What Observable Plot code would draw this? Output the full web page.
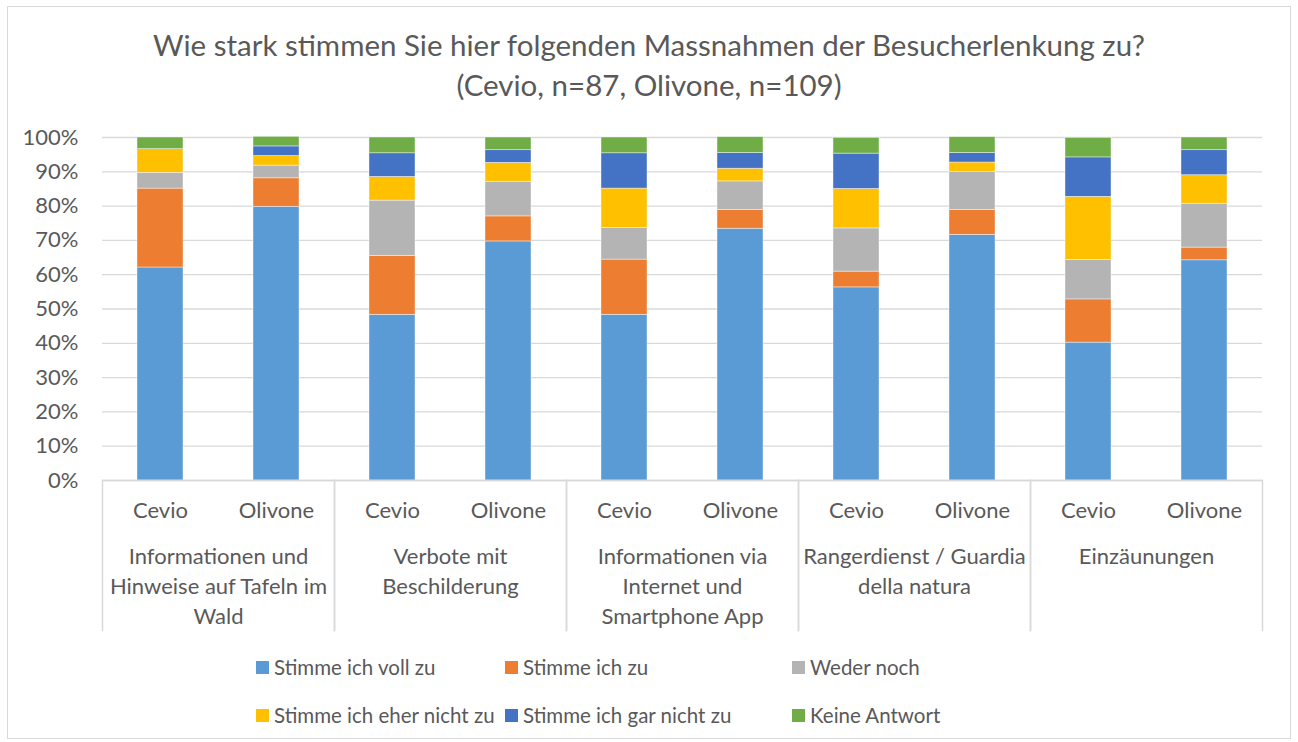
<!DOCTYPE html>
<html>
<head>
<meta charset="utf-8">
<script src="https://cdn.jsdelivr.net/npm/d3@7"></script>
<script src="https://cdn.jsdelivr.net/npm/@observablehq/plot@0.6"></script>
<style>
  html, body { margin: 0; padding: 0; background: #fff; }
  #wrap { position: relative; width: 1298px; height: 742px; font-family: Lato, "Open Sans", sans-serif; color: #595959; overflow: hidden; }
  #border { position: absolute; left: 7px; top: 6px; width: 1284px; height: 733px; border: 1.5px solid #d9d9d9; box-sizing: border-box; pointer-events: none; }
  #title { height: 110px; box-sizing: border-box; padding-top: 25px; text-align: center; font-size: 29.5px; line-height: 40px; color: #595959; white-space: nowrap; }
  #chart svg { display: block; }
  #legend { display: grid; grid-template-columns: 249px 287px auto; margin-left: 256px; padding-top: 3px; }
  .item { display: flex; align-items: center; height: 48px; font-size: 20.5px; color: #595959; white-space: nowrap; }
  .sw { width: 13px; height: 13px; margin-right: 5px; flex: none; }
</style>
</head>
<body>
<div id="wrap">
  <div id="title"></div>
  <div id="chart"></div>
  <div id="legend"></div>
  <div id="border"></div>
</div>
<script>
const titleLines = ["Wie stark stimmen Sie hier folgenden Massnahmen der Besucherlenkung zu?", "(Cevio, n=87, Olivone, n=109)"];
const groups = ["Informationen und Hinweise auf Tafeln im Wald", "Verbote mit Beschilderung", "Informationen via Internet und Smartphone App", "Rangerdienst / Guardia della natura", "Einzäunungen"];
const groupLabels = ["Informationen und\nHinweise auf Tafeln im\nWald", "Verbote mit\nBeschilderung", "Informationen via\nInternet und\nSmartphone App", "Rangerdienst / Guardia\ndella natura", "Einzäunungen"];
const sites = ["Cevio", "Olivone"];
const answers = ["Stimme ich voll zu", "Stimme ich zu", "Weder noch", "Stimme ich eher nicht zu", "Stimme ich gar nicht zu", "Keine Antwort"];
const colors = ["#5B9BD5", "#ED7D31", "#B4B4B4", "#FFC000", "#4472C4", "#70AD47"];
const yTicks = [0, 10, 20, 30, 40, 50, 60, 70, 80, 90, 100];

// Percent values per bar, in order: group1 Cevio, group1 Olivone, group2 Cevio, ...
const vollZu    = [62.1, 79.8, 48.3, 69.7, 48.3, 73.4, 56.3, 71.6, 40.2, 64.2];
const zu        = [23.0,  8.3, 17.2,  7.3, 16.1,  5.5,  4.6,  7.3, 12.6,  3.7];
const weder     = [ 4.6,  3.7, 16.1, 10.1,  9.2,  8.3, 12.6, 11.0, 11.5, 12.8];
const eherNicht = [ 6.9,  2.8,  6.9,  5.5, 11.5,  3.7, 11.5,  2.8, 18.4,  8.3];
const garNicht  = [ 0.0,  2.8,  6.9,  3.7, 10.3,  4.6, 10.3,  2.8, 11.5,  7.3];
const keine     = [ 3.4,  2.8,  4.6,  3.7,  4.6,  4.6,  4.6,  4.6,  5.7,  3.7];
const series = [vollZu, zu, weder, eherNicht, garNicht, keine];

const rows = [];
series.forEach((vals, a) => {
  vals.forEach((v, i) => {
    rows.push({group: groups[Math.floor(i / 2)], site: sites[i % 2], answer: answers[a], value: v});
  });
});

document.getElementById("title").innerHTML = titleLines.map(t => `<div>${t}</div>`).join("");

const H = 530, MT = 27, MB = 160;
const innerH = H - MT - MB;
const grid = "#d9d9d9";
const FS = 22;

const chart = Plot.plot({
  width: 1298,
  height: H,
  marginTop: MT,
  marginBottom: MB,
  marginLeft: 100,
  marginRight: 35,
  style: {fontFamily: "Lato, 'Open Sans', sans-serif", fontSize: FS + "px", color: "#595959", background: "transparent"},
  fx: {domain: groups, padding: 0, label: null},
  x: {domain: sites, paddingInner: 0.6, paddingOuter: 0.3, label: null},
  y: {domain: [0, 100], label: null},
  color: {domain: answers, range: colors},
  marks: [
    Plot.gridY(yTicks, {stroke: grid, strokeOpacity: 1, strokeWidth: 1.3}),
    Plot.barY(rows, Plot.stackY({fx: "group", x: "site", y: "value", fill: "answer", z: "answer", stroke: "#fff", strokeWidth: 0.7, strokeOpacity: 0.6})),
    Plot.ruleY([0], {stroke: grid, strokeWidth: 1.5}),
    Plot.frame({anchor: "left", stroke: grid, strokeWidth: 1.5, insetTop: innerH, insetBottom: -150}),
    Plot.frame({anchor: "right", stroke: grid, strokeWidth: 1.5, insetTop: innerH, insetBottom: -150}),
    Plot.axisY(yTicks, {tickSize: 0, tickPadding: 24, tickFormat: d => d + "%", label: null}),
    Plot.axisX({anchor: "bottom", tickSize: 0, tickPadding: 22, label: null}),
    Plot.axisFx({anchor: "bottom", tickSize: 0, tickPadding: 62, lineHeight: 30 / FS, tickFormat: g => groupLabels[groups.indexOf(g)], label: null})
  ]
});
document.getElementById("chart").appendChild(chart);

const legend = document.getElementById("legend");
answers.forEach((a, i) => {
  const it = document.createElement("div");
  it.className = "item";
  it.innerHTML = `<span class="sw" style="background:${colors[i]}"></span><span>${a}</span>`;
  legend.appendChild(it);
});
</script>
</body>
</html>
